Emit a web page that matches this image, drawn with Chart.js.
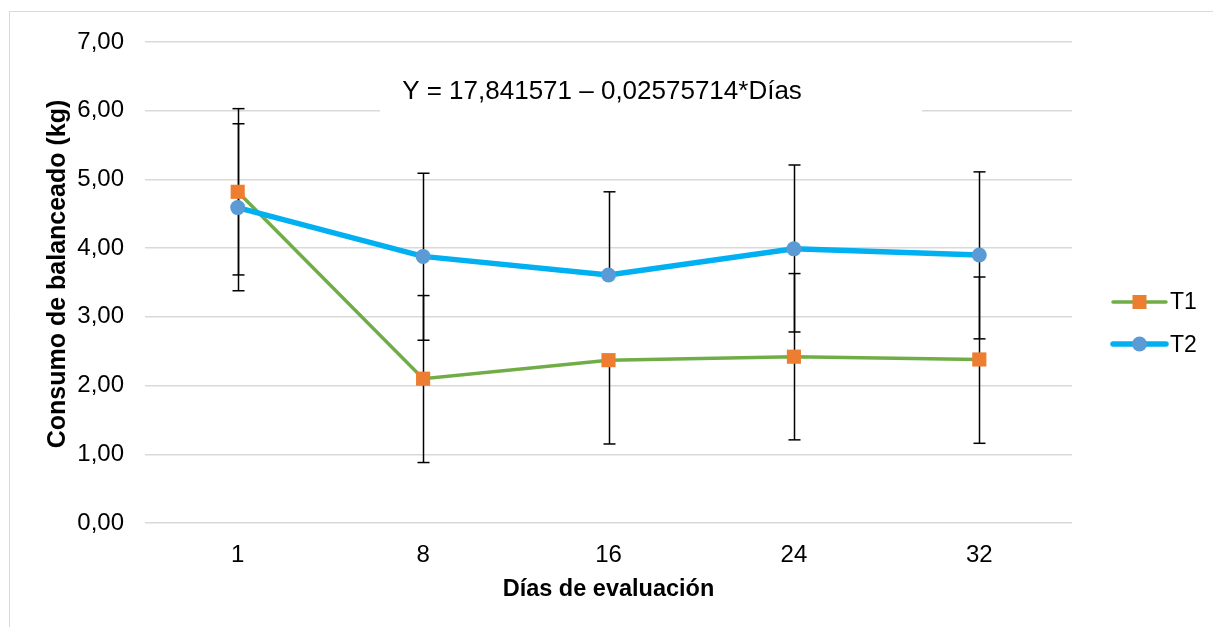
<!DOCTYPE html>
<html lang="es">
<head>
<meta charset="utf-8">
<title>Consumo de balanceado</title>
<script src="https://cdn.jsdelivr.net/npm/chart.js@4.4.1/dist/chart.umd.min.js"></script>
<style>
  html, body { margin: 0; padding: 0; background: #ffffff; }
  #wrap { position: relative; width: 1213px; height: 627px; }
  canvas { display: block; }
</style>
</head>
<body>
<div id="wrap"><canvas id="chart" width="1213" height="627"></canvas></div>
<script>
// Evaluation days (categories)
const days = ['1', '8', '16', '24', '32'];

// Mean feed consumption per treatment (kg)
const t1Values = [4.82, 2.10, 2.37, 2.42, 2.38];
const t2Values = [4.59, 3.88, 3.61, 3.99, 3.90];

// Error bar lengths (kg); null = no bar on that side
const t1ErrPlus  = [1.21, 1.21, null, 1.21, 1.20];
const t1ErrMinus = [1.21, 1.22, 1.22, 1.21, 1.22];
const t2ErrPlus  = [1.22, 1.21, 1.21, 1.22, 1.21];
const t2ErrMinus = [1.21, 1.22, null, 1.21, 1.22];

// Y axis range
const yMin = 0;
const yMax = 7;
const yStep = 1;

// Texts
const equationText = 'Y = 17,841571 \u2013 0,02575714*D\u00edas';
const yTitleText = 'Consumo de balanceado (kg)';

const FONT = '"Liberation Sans", Arial, sans-serif';
const GRID = '#d9d9d9';

const errorBars = {
  id: 'errorBars',
  beforeDatasetsDraw(chart) {
    const ctx = chart.ctx;
    const y = chart.scales.y;
    ctx.save();
    ctx.strokeStyle = '#000000';
    ctx.lineWidth = 1.5;
    chart.data.datasets.forEach((ds, di) => {
      const meta = chart.getDatasetMeta(di);
      meta.data.forEach((pt, i) => {
        const v = ds.data[i];
        const up = ds.errPlus[i];
        const dn = ds.errMinus[i];
        const x = Math.round(pt.x) + 0.5;
        const y0 = y.getPixelForValue(v);
        const ends = [];
        if (up != null) ends.push(y.getPixelForValue(v + up));
        if (dn != null) ends.push(y.getPixelForValue(v - dn));
        ends.forEach(ye => {
          ctx.beginPath();
          ctx.moveTo(x, y0);
          ctx.lineTo(x, ye);
          ctx.stroke();
          ctx.beginPath();
          ctx.moveTo(x - 6, ye);
          ctx.lineTo(x + 6, ye);
          ctx.stroke();
        });
      });
    });
    ctx.restore();
  }
};

const equationLabel = {
  id: 'equationLabel',
  beforeDatasetsDraw(chart) {
    const ctx = chart.ctx;
    ctx.save();
    ctx.fillStyle = '#ffffff';
    ctx.fillRect(380, 62, 542, 56);
    ctx.fillStyle = '#000000';
    ctx.font = '26px ' + FONT;
    ctx.textAlign = 'center';
    ctx.textBaseline = 'alphabetic';
    ctx.fillText(equationText, 602, 99);
    ctx.restore();
  }
};

const frameAndLegend = {
  id: 'frameAndLegend',
  beforeDraw(chart) {
    const ctx = chart.ctx;
    ctx.save();
    ctx.fillStyle = '#ffffff';
    ctx.fillRect(0, 0, chart.width, chart.height);
    ctx.strokeStyle = GRID;
    ctx.lineWidth = 1;
    ctx.beginPath();
    ctx.moveTo(9.5, chart.height);
    ctx.lineTo(9.5, 11.5);
    ctx.lineTo(chart.width, 11.5);
    ctx.stroke();
    ctx.restore();
  },
  afterDraw(chart) {
    const ctx = chart.ctx;
    ctx.save();
    // vertical axis title
    ctx.save();
    ctx.translate(58, 274);
    ctx.rotate(-Math.PI / 2);
    ctx.fillStyle = '#000000';
    ctx.font = 'bold 25px ' + FONT;
    ctx.textAlign = 'center';
    ctx.textBaseline = 'middle';
    ctx.fillText(yTitleText, 0, 0);
    ctx.restore();
    // legend
    const rows = [{ y: 302, base: 309 }, { y: 344, base: 352 }];
    chart.data.datasets.forEach((ds, i) => {
      const r = rows[i];
      ctx.strokeStyle = ds.borderColor;
      ctx.lineWidth = ds.borderWidth;
      ctx.lineCap = 'round';
      ctx.beginPath();
      ctx.moveTo(1113, r.y);
      ctx.lineTo(1166, r.y);
      ctx.stroke();
      ctx.fillStyle = ds.pointBackgroundColor;
      if (ds.pointStyle === 'rect') {
        ctx.fillRect(1139.5 - 7, r.y - 7, 14, 14);
      } else {
        ctx.beginPath();
        ctx.arc(1139.5, r.y, 7.5, 0, Math.PI * 2);
        ctx.fill();
      }
      ctx.fillStyle = '#000000';
      ctx.font = '23px ' + FONT;
      ctx.textAlign = 'left';
      ctx.textBaseline = 'alphabetic';
      ctx.fillText(ds.label, 1170, r.base);
    });
    ctx.restore();
  }
};

new Chart(document.getElementById('chart'), {
  type: 'line',
  data: {
    labels: days,
    datasets: [
      {
        label: 'T1',
        data: t1Values,
        errPlus: t1ErrPlus,
        errMinus: t1ErrMinus,
        borderColor: '#70ad47',
        borderWidth: 3.5,
        pointStyle: 'rect',
        pointRadius: 10,
        pointBackgroundColor: '#ed7d31',
        pointBorderColor: '#ed7d31',
        pointBorderWidth: 0,
        tension: 0,
        order: 1
      },
      {
        label: 'T2',
        data: t2Values,
        errPlus: t2ErrPlus,
        errMinus: t2ErrMinus,
        borderColor: '#00b0f0',
        borderWidth: 5.5,
        pointStyle: 'circle',
        pointRadius: 7.5,
        pointBackgroundColor: '#5b9bd5',
        pointBorderColor: '#5b9bd5',
        pointBorderWidth: 0,
        tension: 0,
        order: 0
      }
    ]
  },
  options: {
    responsive: false,
    animation: false,
    devicePixelRatio: 1,
    layout: { padding: { top: 42, right: 141, bottom: 0, left: 0 } },
    plugins: {
      legend: { display: false },
      tooltip: { enabled: false }
    },
    scales: {
      x: {
        offset: true,
        grid: { display: false, drawTicks: false },
        border: { display: false },
        ticks: { color: '#000000', font: { family: FONT, size: 24 }, padding: 18, maxRotation: 0 },
        title: {
          display: true,
          text: 'Días de evaluación',
          color: '#000000',
          font: { family: FONT, size: 23.5, weight: 'bold' },
          padding: { top: 0, bottom: 23 }
        },
        afterFit(scale) { scale.height = 104; }
      },
      y: {
        min: yMin,
        max: yMax,
        grid: { color: GRID, lineWidth: 1.5, drawTicks: false },
        border: { display: false },
        ticks: {
          stepSize: yStep,
          color: '#000000',
          font: { family: FONT, size: 24 },
          padding: 21,
          callback: v => v.toFixed(2).replace('.', ',')
        },
        afterFit(scale) { scale.width = 145; }
      }
    }
  },
  plugins: [frameAndLegend, errorBars, equationLabel]
});
</script>
</body>
</html>
